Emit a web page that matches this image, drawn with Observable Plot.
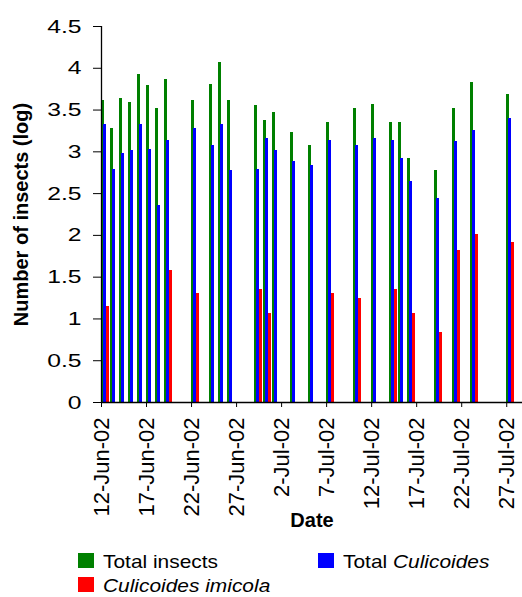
<!DOCTYPE html>
<html>
<head>
<meta charset="utf-8">
<script src="https://cdn.jsdelivr.net/npm/d3@7"></script>
<script src="https://cdn.jsdelivr.net/npm/@observablehq/plot@0.6"></script>
<style>
  html, body { margin: 0; padding: 0; background: #fff; }
  #wrap { position: relative; width: 522px; height: 597px; overflow: hidden; font-family: "Liberation Sans", Arial, sans-serif; }
  #chart svg { display: block; }
  g[aria-label="y-axis label"] text, g[aria-label="x-axis label"] text { font-weight: bold; font-size: 20px; }
  g[aria-label="x-axis tick label"] text { font-size: 22px; }
  g[aria-label="y-axis tick label"] text { font-size: 19px; }
  .leg { position: absolute; font-size: 19px; line-height: 16px; color: #000; white-space: nowrap; transform: scaleX(1.1); transform-origin: left center; }
  .sw { position: absolute; width: 16px; height: 15px; }
</style>
</head>
<body>
<div id="wrap">
  <div id="chart"></div>
</div>
<script>
// ---- data (log10 counts) ----
const dates = ["2002-06-12","2002-06-13","2002-06-14","2002-06-15","2002-06-16","2002-06-17","2002-06-18","2002-06-19",
  "2002-06-22","2002-06-24","2002-06-25","2002-06-26","2002-06-29","2002-06-30","2002-07-01","2002-07-03","2002-07-05",
  "2002-07-07","2002-07-10","2002-07-12","2002-07-14","2002-07-15","2002-07-16","2002-07-19","2002-07-21","2002-07-23","2002-07-27"];
const totalInsects = [3.62,3.28,3.64,3.59,3.93,3.79,3.52,3.86,3.62,3.81,4.07,3.62,3.55,3.38,3.47,3.23,3.08,3.35,3.52,3.57,3.35,3.35,2.92,2.78,3.52,3.83,3.69];
const totalCulicoides = [3.33,2.79,2.98,3.02,3.33,3.03,2.36,3.13,3.28,3.08,3.33,2.78,2.79,3.16,3.02,2.89,2.84,3.13,3.08,3.16,3.13,2.92,2.64,2.44,3.12,3.26,3.40];
const imicola = [1.15,null,null,null,null,null,null,1.58,1.31,null,null,null,1.35,1.06,null,null,null,1.31,1.25,null,1.35,null,1.06,0.84,1.82,2.01,1.92];
const tickDates = ["2002-06-12","2002-06-17","2002-06-22","2002-06-27","2002-07-02","2002-07-07","2002-07-12","2002-07-17","2002-07-22","2002-07-27"];
const yTicks = [0,0.5,1,1.5,2,2.5,3,3.5,4,4.5];
const seriesNames = ["Total insects","Total Culicoides","Culicoides imicola"];
const seriesColors = ["#008000","#0000ff","#ff0000"];

const DAY = 864e5;
const parse = s => new Date(s + "T00:00:00Z");
const start = parse(dates[0]);
const end = new Date(start.getTime() + 46.75 * DAY);

function rows(values, a, b, k) {
  return dates.map((d, i) => ({
    x1: new Date(parse(d).getTime() + a * DAY),
    x2: new Date(parse(d).getTime() + b * DAY),
    y: values[i], s: seriesNames[k]
  })).filter(r => r.y != null);
}
const green = rows(totalInsects, 0.0, 0.36, 0);
const blue = rows(totalCulicoides, 0.18, 0.58, 1);
const red = rows(imicola, 0.52, 0.84, 2);

const fmt = d3.utcFormat("%-d-%b-%y");

const chart = Plot.plot({
  width: 522,
  height: 536,
  marginLeft: 101,
  marginRight: 0,
  marginTop: 26,
  marginBottom: 134,
  style: { fontFamily: "Liberation Sans, Arial, sans-serif", fontSize: "20px", color: "#000", background: "#fff" },
  x: { type: "utc", domain: [start, end] },
  y: { domain: [0, 4.5] },
  marks: [
    Plot.rectY(green, { x1: "x1", x2: "x2", y: "y", fill: seriesColors[0], shapeRendering: "crispEdges" }),
    Plot.rectY(blue, { x1: "x1", x2: "x2", y: "y", fill: seriesColors[1], shapeRendering: "crispEdges" }),
    Plot.rectY(red, { x1: "x1", x2: "x2", y: "y", fill: seriesColors[2], shapeRendering: "crispEdges" }),
    Plot.axisY({ ticks: yTicks, tickFormat: d => String(d), tickSize: 8, tickPadding: 12,
      label: "Number of insects (log)", labelAnchor: "center", labelArrow: "none", labelOffset: 88 }),
    Plot.axisX({ ticks: tickDates.map(parse), tickFormat: fmt, tickSize: 5, tickPadding: 10, tickRotate: -90,
      label: "Date", labelAnchor: "center", labelArrow: "none", labelOffset: 124 }),
    Plot.ruleX([start], { stroke: "#000", strokeWidth: 1.3 }),
    Plot.ruleY([0], { stroke: "#000", strokeWidth: 1.3 })
  ]
});
document.getElementById("chart").appendChild(chart);

// widen y tick labels horizontally (reference glyphs are stretched)
d3.select(chart).selectAll('g[aria-label="y-axis tick label"] text').each(function () {
  const t = this.getAttribute("transform") || "";
  const x = +(this.getAttribute("x") || 0);
  this.setAttribute("transform", `${t} translate(${x},0) scale(1.3,1) translate(${-x},0)`);
});

// ---- legend (HTML) ----
const wrap = document.getElementById("wrap");
const legendItems = [
  { color: seriesColors[0], left: 78, top: 553, html: "Total insects" },
  { color: seriesColors[1], left: 318, top: 553, html: "Total <i>Culicoides</i>" },
  { color: seriesColors[2], left: 78, top: 577, html: "<i>Culicoides imicola</i>" }
];
for (const it of legendItems) {
  const sw = document.createElement("div");
  sw.className = "sw";
  sw.style.left = it.left + "px";
  sw.style.top = it.top + "px";
  sw.style.background = it.color;
  wrap.appendChild(sw);
  const t = document.createElement("div");
  t.className = "leg";
  t.style.left = (it.left + 25) + "px";
  t.style.top = (it.top + 1) + "px";
  t.innerHTML = it.html;
  wrap.appendChild(t);
}
</script>
</body>
</html>
